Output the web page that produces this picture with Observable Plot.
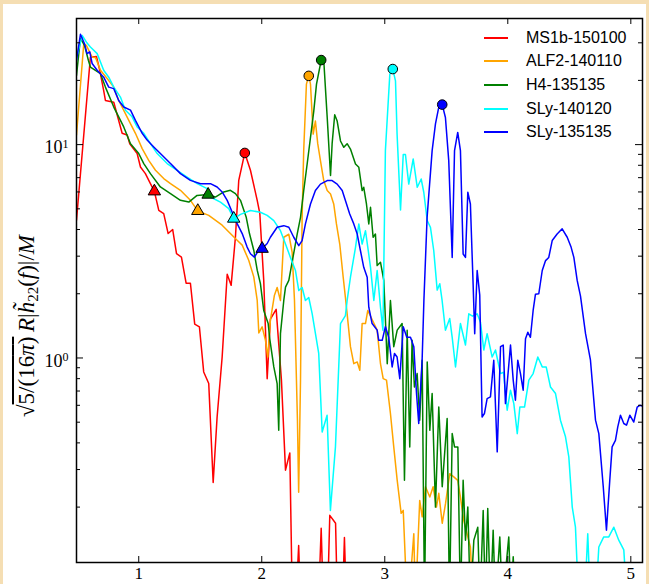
<!DOCTYPE html>
<html><head><meta charset="utf-8">
<script src="https://cdn.jsdelivr.net/npm/d3@7"></script>
<script src="https://cdn.jsdelivr.net/npm/@observablehq/plot@0.6"></script>
<style>
body{margin:0;background:#f5deb3;}
#wrap{position:relative;width:649px;height:584px;background:#f5deb3;overflow:hidden}
#panel{position:absolute;left:3px;top:4px;width:643px;height:580px;background:#fff}
#chart{position:absolute;left:0;top:0}
#ylabel{position:absolute;left:28px;top:326px;transform:translate(-50%,-50%) rotate(-90deg);white-space:nowrap;font-family:"Liberation Serif",serif;font-size:23px;color:#000;line-height:1}
#ylabel i{font-style:italic}
#ylabel .ov{text-decoration:overline}
#ylabel sub{font-size:15px;vertical-align:-4px}
#legend{position:absolute;left:484px;top:26px;font-family:"Liberation Sans",Arial,sans-serif;font-size:16px;color:#000}
#legend .row{display:flex;align-items:center;height:23.6px}
#legend .sw{width:24px;height:0;border-top:2px solid;margin-right:18px}
</style></head><body>
<div id="wrap"><div id="panel"></div><div id="chart"></div>
<div id="ylabel">√<span class="ov">5/(16<i>π</i>)</span>&#8201;<i>R</i>|<i>h̃</i><sub>22</sub>(<i>f</i>)|/<i>M</i></div>
<div id="legend"></div></div>
<script>
// ---- data ----
const seriesNames = ["MS1b-150100","ALF2-140110","H4-135135","SLy-140120","SLy-135135"];
const seriesColors = ["#ff0000","#ffa500","#008000","#00ffff","#0000ff"];

const ms1bX = [0.494,0.607,0.656,0.683,0.715,0.729,0.797,0.865,0.906,0.927,0.987,1.014,1.054,1.095,1.127,1.163,1.203,1.239,1.276,1.307,1.347,1.385,1.42,1.455,1.493,1.528,1.569,1.605,1.637,1.678,1.719,1.751,1.786,1.813,1.862,1.908,1.963,1.984,2.016,2.044,2.07,2.117,2.16,2.193,2.228,2.247,2.282,2.3,2.315,2.461,2.483,2.501,2.534,2.553,2.6,2.615,2.656,2.672,2.688];
const ms1bY = [4.42,25.7,25.9,22.3,17.9,16.1,15.8,11.3,11.1,10.1,9.08,7.85,7.31,6.56,6.04,4.92,4.75,3.83,4.0,3.08,2.97,2.24,2.24,1.44,1.40,0.86,0.759,0.261,0.529,1.01,2.47,2.19,3.69,6.8,9.14,7.58,5.48,4.76,2.31,0.80,1.52,1.69,0.787,0.298,0.359,0.08,0.08,0.132,0.07,0.07,0.159,0.07,0.07,0.183,0.168,0.07,0.07,0.144,0.07];

const alf2X = [0.494,0.553,0.574,0.621,0.648,0.689,0.743,0.797,0.837,0.865,0.919,0.973,1.028,1.081,1.136,1.203,1.258,1.339,1.42,1.48,1.569,1.678,1.759,1.8,1.841,1.894,1.935,1.963,1.976,2.003,2.03,2.049,2.07,2.103,2.125,2.152,2.179,2.22,2.247,2.266,2.29,2.3,2.315,2.328,2.341,2.363,2.382,2.396,2.418,2.436,2.455,2.477,2.504,2.532,2.559,2.585,2.607,2.634,2.662,2.68,2.694,2.721,2.748,2.776,2.797,2.816,2.843,2.862,2.938,2.965,2.987,3.014,3.046,3.073,3.101,3.133,3.15,3.168,3.193,3.236,3.249,3.284,3.304,3.331,3.366,3.393,3.42,3.439,3.467,3.494,3.528,3.561,3.593,3.615,3.642,3.675,3.696,3.72];
const alf2Y = [11.1,29.7,29.2,25.7,25.6,22.3,20.4,18.6,16.1,15.0,13.0,11.3,9.58,8.44,7.58,6.93,6.56,6.11,5.48,4.89,4.66,4.19,3.76,3.56,3.38,2.87,2.40,1.86,1.31,1.40,1.21,1.01,1.50,1.97,2.14,1.86,3.68,3.80,3.13,1.86,0.51,0.235,0.787,4.56,9.4,19.2,21.0,19.2,11.2,12.9,10.1,8.41,6.78,6.09,5.87,5.27,4.25,3.42,2.39,1.92,1.61,1.13,0.94,0.958,0.876,1.45,1.45,1.67,1.35,0.94,0.80,0.787,0.549,0.383,0.267,0.187,0.193,0.109,0.07,0.150,0.07,0.215,0.18,0.249,0.223,0.249,0.20,0.232,0.168,0.208,0.287,0.277,0.267,0.223,0.173,0.145,0.13,0.07];

const h4X = [0.494,0.526,0.559,0.591,0.607,0.648,0.689,0.729,0.797,0.837,0.878,0.933,1.0,1.041,1.095,1.176,1.258,1.339,1.407,1.474,1.564,1.623,1.691,1.745,1.786,1.827,1.873,1.9,1.935,1.963,1.989,2.016,2.052,2.065,2.098,2.125,2.138,2.152,2.179,2.193,2.22,2.288,2.315,2.341,2.369,2.396,2.423,2.445,2.483,2.504,2.532,2.559,2.572,2.593,2.613,2.64,2.667,2.694,2.721,2.762,2.789,2.816,2.829,2.851,2.87,2.884,2.905,2.924,2.938,2.965,2.992,3.02,3.046,3.073,3.101,3.141,3.16,3.182,3.203,3.222,3.241,3.263,3.284,3.304,3.323,3.345,3.366,3.385,3.412,3.439,3.467,3.507,3.526,3.548,3.567,3.594,3.615,3.637,3.656,3.675,3.696,3.724,3.756,3.774,3.8,3.818,3.837,3.859,3.881,3.9,3.935,3.957,4.008,4.026,4.044,4.062];
const h4Y = [21.1,31.5,29.2,24.8,23.1,22.3,21.5,18.6,15.0,13.5,12.1,10.1,9.08,8.15,7.31,6.33,5.89,5.48,5.38,5.78,5.83,5.68,6.0,6.11,5.89,5.48,4.58,3.83,3.2,2.58,2.23,1.67,1.45,1.23,0.908,0.759,0.458,1.30,1.86,2.15,2.31,3.81,4.56,6.09,8.11,10.8,14.4,19.2,24.9,24.8,13.4,7.16,10.1,13.8,12.9,10.4,9.71,10.1,9.53,8.11,7.83,6.09,6.31,5.27,4.25,5.08,3.68,3.81,2.71,2.81,2.31,0.94,1.86,1.13,1.35,1.45,0.267,1.35,0.383,1.21,0.731,0.845,0.511,0.976,0.07,0.958,0.458,0.681,0.20,0.589,0.249,0.52,0.07,0.442,0.383,0.383,0.07,0.267,0.14,0.20,0.07,0.14,0.161,0.07,0.193,0.07,0.197,0.07,0.156,0.07,0.145,0.07,0.145,0.07,0.117,0.07];

const sly140X = [0.494,0.54,0.575,0.607,0.662,0.715,0.756,0.797,0.851,0.892,0.946,0.987,1.041,1.095,1.15,1.231,1.312,1.393,1.475,1.556,1.583,1.664,1.732,1.772,1.827,1.908,1.989,2.044,2.098,2.152,2.193,2.233,2.274,2.301,2.328,2.355,2.382,2.41,2.423,2.463,2.491,2.531,2.558,2.599,2.64,2.68,2.694,2.721,2.762,2.789,2.816,2.843,2.862,2.884,2.911,2.938,2.965,2.985,3.005,3.041,3.065,3.087,3.1,3.128,3.15,3.168,3.195,3.231,3.264,3.296,3.317,3.345,3.371,3.398,3.426,3.447,3.466,3.493,3.528,3.548,3.575,3.615,3.656,3.683,3.713,3.751,3.778,3.805,3.832,3.873,3.9,3.941,3.965,3.995,4.022,4.049,4.077,4.098,4.136,4.171,4.206,4.244,4.28,4.312,4.347,4.388,4.428,4.469,4.496,4.524,4.55,4.577,4.623,4.65,4.672,4.713,4.74,4.78,4.821,4.862,4.902,4.943,4.971];
const sly140Y = [25.4,32.5,30.2,28.7,26.7,22.3,20.7,18.6,16.7,14.5,13.5,12.1,11.3,10.1,9.08,8.15,7.58,7.05,6.56,6.22,5.68,5.38,5.01,4.5,4.71,4.91,4.82,4.66,4.4,3.95,3.42,2.96,2.57,2.07,2.14,1.86,1.92,1.61,1.45,1.05,0.45,0.539,0.193,0.383,1.45,1.58,1.86,2.39,3.30,4.25,3.42,3.95,3.30,2.66,1.86,2.57,1.73,1.35,9.37,21.4,22.6,19.9,11.2,4.94,8.98,8.98,6.53,8.57,6.31,6.9,5.98,4.4,4.1,3.19,2.08,2.23,1.86,1.35,1.53,1.25,0.908,1.45,1.15,1.61,1.57,1.61,1.47,1.09,1.30,1.01,1.09,0.845,0.857,0.569,0.706,0.611,0.442,0.589,0.589,0.787,0.845,1.01,0.908,0.908,0.731,0.681,0.511,0.427,0.344,0.20,0.161,0.07,0.07,0.150,0.07,0.07,0.13,0.145,0.145,0.161,0.14,0.126,0.07];

const sly135X = [0.494,0.526,0.559,0.58,0.602,0.621,0.662,0.715,0.756,0.797,0.837,0.878,0.933,0.973,1.028,1.068,1.122,1.176,1.258,1.339,1.42,1.502,1.583,1.637,1.678,1.719,1.759,1.8,1.841,1.881,1.908,1.94,1.976,2.003,2.044,2.07,2.125,2.179,2.22,2.26,2.301,2.328,2.355,2.396,2.436,2.477,2.532,2.572,2.613,2.654,2.68,2.715,2.748,2.776,2.802,2.829,2.857,2.87,2.897,2.938,2.951,2.979,3.005,3.032,3.06,3.079,3.1,3.122,3.15,3.179,3.209,3.236,3.258,3.276,3.304,3.318,3.344,3.385,3.412,3.439,3.467,3.493,3.52,3.548,3.567,3.593,3.615,3.637,3.656,3.675,3.696,3.718,3.731,3.751,3.772,3.791,3.81,3.832,3.859,3.886,3.914,3.941,3.963,3.981,4.022,4.044,4.062,4.081,4.103,4.125,4.144,4.163,4.184,4.206,4.225,4.252,4.28,4.307,4.333,4.361,4.401,4.442,4.483,4.515,4.537,4.564,4.591,4.632,4.672,4.713,4.74,4.776,4.802,4.829,4.848,4.875,4.894,4.916,4.943,4.965,4.992,5.024,5.052,5.073,5.095];
const sly135Y = [24.8,32.9,29.7,26.7,27.2,24.0,22.3,20.7,18.6,18.3,16.1,15.0,14.5,13.0,11.3,10.5,9.75,9.08,8.15,7.31,6.8,6.56,6.56,6.33,6.0,5.48,4.83,4.26,3.83,3.31,3.08,2.97,3.2,3.25,3.44,3.68,4.1,4.17,4.1,3.68,3.36,3.55,4.25,5.27,6.09,6.53,6.78,6.78,6.53,6.09,5.47,4.73,4.25,3.81,3.19,2.66,2.39,1.73,1.45,1.35,1.21,1.21,1.40,1.25,0.908,1.05,1.01,0.80,1.40,1.25,1.25,1.13,0.681,0.493,0.994,1.86,4.56,9.37,12.5,15.0,15.4,13.4,8.41,2.96,9.37,11.4,9.37,3.07,2.96,5.98,5.27,2.22,1.30,2.57,1.97,0.529,0.549,0.645,0.657,0.976,0.363,1.13,1.15,0.611,1.15,0.787,0.634,0.976,0.845,0.706,1.23,1.32,1.25,1.67,1.99,2.0,2.57,2.86,2.96,3.55,3.81,4.03,3.68,3.30,2.96,2.31,1.95,1.30,0.976,0.511,0.442,0.249,0.156,0.267,0.383,0.411,0.475,0.539,0.493,0.484,0.539,0.501,0.589,0.60,0.594];

// start (triangle) and peak (circle) markers
const startX = [1.127,1.48,1.564,1.772,2.003];
const startY = [6.04,4.89,5.83,4.5,3.25];
const peakX = [1.862,2.382,2.483,3.065,3.467];
const peakY = [9.14,21.0,24.9,22.6,15.4];

const xTicks = [1,2,3,4,5];
const yMajor = [1,10];
const yMinor = [0.2,0.3,0.4,0.5,0.6,0.7,0.8,0.9,2,3,4,5,6,7,8,9,20,30];

// ---- build tables ----
const xs = [ms1bX, alf2X, h4X, sly140X, sly135X];
const ys = [ms1bY, alf2Y, h4Y, sly140Y, sly135Y];
const lines = [];
seriesNames.forEach((name, i) => xs[i].forEach((x, j) => lines.push({name, x, y: ys[i][j]})));
const starts = seriesNames.map((name, i) => ({name, x: startX[i], y: startY[i]}));
const peaks = seriesNames.map((name, i) => ({name, x: peakX[i], y: peakY[i]}));

const W = 649, H = 584, mL = 76, mT = 18, mR = 7, mB = 22;
const FW = W - mL - mR, FH = H - mT - mB;

const chart = Plot.plot({
  width: W, height: H, marginLeft: mL, marginTop: mT, marginRight: mR, marginBottom: mB,
  style: {background: "transparent", fontFamily: "'Liberation Serif', serif", fontSize: "18px", color: "#000"},
  x: {domain: [0.494, 5.095]},
  y: {type: "log", domain: [0.11, 39]},
  color: {domain: seriesNames, range: seriesColors},
  marks: [
    Plot.line(lines, {x: "x", y: "y", z: "name", stroke: "name", strokeWidth: 1.5, clip: true, strokeLinejoin: "round"}),
    Plot.dot(starts, {x: "x", y: "y", fill: "name", stroke: "black", strokeWidth: 1, symbol: "triangle", r: 4.6}),
    Plot.dot(peaks, {x: "x", y: "y", fill: "name", stroke: "black", strokeWidth: 1, symbol: "circle", r: 4.8}),
    Plot.ruleY(yMajor, {insetRight: FW - 7, stroke: "black", strokeWidth: 1}),
    Plot.ruleY(yMajor, {insetLeft: FW - 7, stroke: "black", strokeWidth: 1}),
    Plot.ruleY(yMinor, {insetRight: FW - 4, stroke: "black", strokeWidth: 1}),
    Plot.ruleY(yMinor, {insetLeft: FW - 4, stroke: "black", strokeWidth: 1}),
    Plot.ruleX(xTicks, {insetBottom: FH - 6, stroke: "black", strokeWidth: 1}),
    Plot.ruleX(xTicks, {insetTop: FH - 6, stroke: "black", strokeWidth: 1}),
    Plot.frame({stroke: "black", strokeWidth: 1.5}),
    Plot.axisX(xTicks, {tickSize: 0, tickPadding: 4, tickFormat: d => String(d), label: null, fontSize: 17}),
    Plot.axisY(yMajor, {tickSize: 0, tickPadding: 8, tickFormat: d => String(Math.round(Math.log10(d))), label: null, fontSize: 18, dy: 3})
  ]
});
document.getElementById("chart").appendChild(chart);

// superscript exponents on the log axis labels
d3.select(chart).selectAll('g[aria-label="y-axis tick label"] text').each(function() {
  const e = this.textContent;
  const t = d3.select(this);
  t.text("10");
  t.append("tspan").attr("dy", "-0.45em").attr("font-size", 12).text(e);
});

// legend
const leg = d3.select("#legend");
seriesNames.forEach((n, i) => {
  const row = leg.append("div").attr("class", "row");
  row.append("div").attr("class", "sw").style("border-color", seriesColors[i]);
  row.append("span").text(n);
});
</script></body></html>
